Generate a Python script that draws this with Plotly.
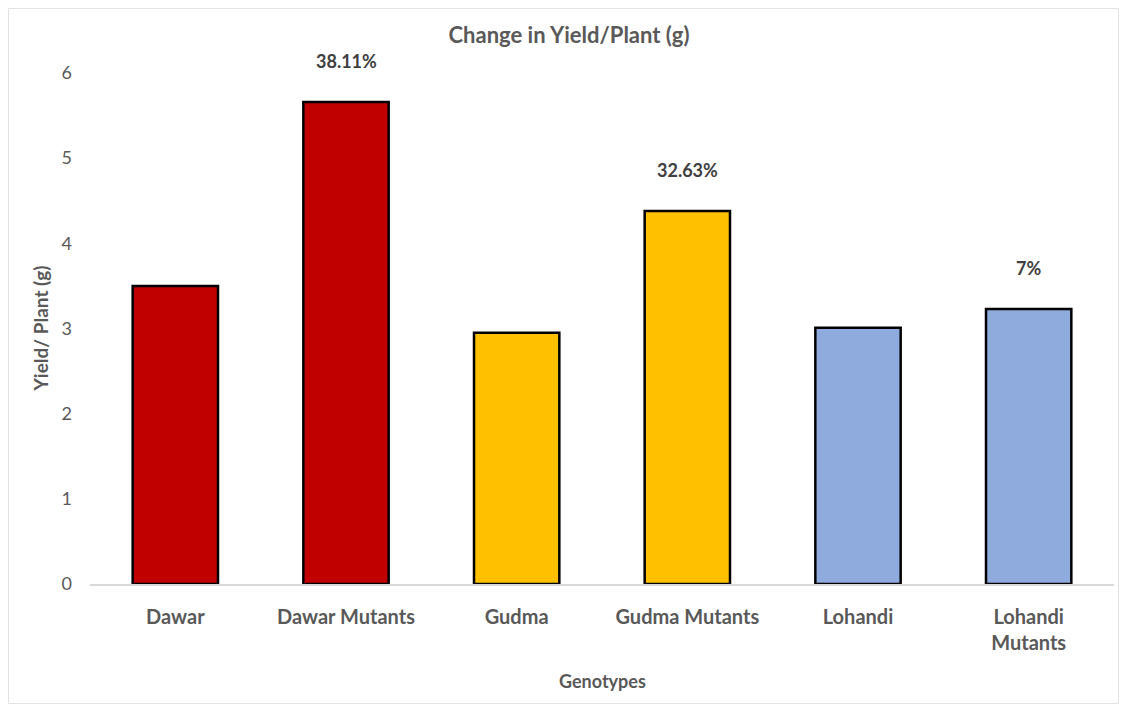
import plotly.graph_objects as go

categories = ["Dawar", "Dawar Mutants", "Gudma", "Gudma Mutants", "Lohandi", "Lohandi<br>Mutants"]
yield_values = [3.50, 5.66, 2.95, 4.38, 3.01, 3.23]
bar_colors = ["#C00000", "#C00000", "#FFC000", "#FFC000", "#8FAADC", "#8FAADC"]
change_labels = ["", "38.11%", "", "32.63%", "", "7%"]
y_ticks = [0, 1, 2, 3, 4, 5, 6]

FONT = "Lato"
GREY = "#595959"

W, H = 1111, 696
L, R, T, B = 82, 5, 65, 120
PW, PH = W - L - R, H - T - B

fig = go.Figure()
fig.add_trace(go.Bar(
    x=categories,
    y=yield_values,
    marker=dict(color=bar_colors, line=dict(color="#000000", width=2.5)),
    hoverinfo="x+y",
))

for cat, val, lab in zip(categories, yield_values, change_labels):
    if lab:
        fig.add_annotation(
            x=cat, y=val, text="<b>%s</b>" % lab, showarrow=False,
            yanchor="middle", yshift=41,
            font=dict(family=FONT, size=18, color="#404040"),
        )

# axis titles
fig.add_annotation(
    xref="paper", yref="paper", x=0.5, y=-(673 - (H - B)) / PH,
    text="<b>Genotypes</b>", showarrow=False, yanchor="middle",
    font=dict(family=FONT, size=18, color=GREY),
)
fig.add_annotation(
    xref="paper", yref="paper", x=-(L - 32) / PW, y=0.5,
    text="<b>Yield/ Plant (g)</b>", showarrow=False, textangle=-90,
    xanchor="center", yanchor="middle",
    font=dict(family=FONT, size=19, color=GREY),
)

fig.update_layout(
    width=W, height=H,
    margin=dict(l=L, r=R, t=T, b=B),
    paper_bgcolor="white", plot_bgcolor="white",
    bargap=0.5,
    showlegend=False,
    font=dict(family=FONT, color=GREY),
    title=dict(
        text="<b>Change in Yield/Plant (g)</b>",
        x=561 / W, xanchor="center", xref="container",
        y=1 - 27 / H, yanchor="middle", yref="container",
        font=dict(family=FONT, size=22, color=GREY),
    ),
    xaxis=dict(
        showline=True, linecolor="#D9D9D9", linewidth=1.5,
        showgrid=False, ticks="",
        tickfont=dict(family=FONT, size=20, color=GREY),
        tickprefix="<b>", ticksuffix="</b>",
        ticklabelstandoff=14,
    ),
    yaxis=dict(
        range=[0, 6], tickvals=y_ticks,
        showline=False, showgrid=False, zeroline=False, ticks="",
        tickfont=dict(family=FONT, size=18, color=GREY),
        ticklabelstandoff=17,
    ),
    shapes=[dict(
        type="rect", xref="paper", yref="paper",
        x0=-(L - 0.5) / PW, x1=(W - L - 0.5) / PW,
        y0=-(B - 0.5) / PH, y1=(H - B - 0.5) / PH,
        line=dict(color="#E3E3E3", width=1), fillcolor="rgba(0,0,0,0)", layer="below",
    )],
)

fig.write_html("out.html")
